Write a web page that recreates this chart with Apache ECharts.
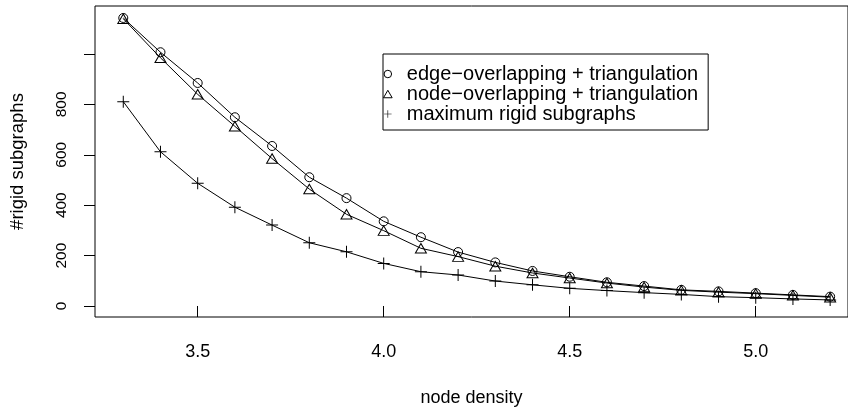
<!DOCTYPE html>
<html>
<head>
<meta charset="utf-8">
<script src="https://cdn.jsdelivr.net/npm/echarts@6/dist/echarts.min.js"></script>
<style>
html,body{margin:0;padding:0;background:#fff;}
#chart{width:848px;height:409px;}
</style>
</head>
<body>
<div id="chart"></div>
<script>
const nodeDensity = [3.3,3.4,3.5,3.6,3.7,3.8,3.9,4.0,4.1,4.2,4.3,4.4,4.5,4.6,4.7,4.8,4.9,5.0,5.1,5.2];
const edgeOverlapping = [1143,1007,885,749,635,511,428,336,273,214,173,139,116,94,79,64,58,51,44,37];
const nodeOverlapping = [1140,985,840,713,585,464,364,299,229,196,158,131,111,91,75,62,55,49,42,35];
const maximumRigid = [811,612,487,392,321,251,215,169,136,123,99,84,70,61,53,46,37,33,28,24];
const xTicks = [3.5,4.0,4.5,5.0];
const yTicks = [0,200,400,600,800,1000];
const yTickLabels = [0,200,400,600,800];
const seriesNames = ['edge\u2212overlapping + triangulation','node\u2212overlapping + triangulation','maximum rigid subgraphs'];

const FONT = '"Liberation Sans", Arial, Helvetica, sans-serif';
const TRI = 'path://M5,0L10,8.66L0,8.66Z';
const PLUS = 'path://M0,5.5H12V6.5H0Z M5.5,0H6.5V12H5.5Z';

function pairs(ys){ return nodeDensity.map((x,i)=>[x, ys[i]]); }

const chart = echarts.init(document.getElementById('chart'), null, {renderer:'canvas'});
chart.setOption({
  animation:false,
  backgroundColor:'#fff',
  textStyle:{fontFamily:FONT, color:'#000'},
  grid:{left:95, top:6, right:0, bottom:92, containLabel:false, outerBoundsMode:'none',
        show:true, borderColor:'#000', borderWidth:1, backgroundColor:'transparent'},
  xAxis:{
    type:'value', min:3.224, max:5.248,
    name:'node density', nameLocation:'middle', nameGap:72,
    nameTextStyle:{fontSize:18, fontFamily:FONT, color:'#000', verticalAlign:'top'},
    axisLine:{show:false},
    axisTick:{show:true, inside:false, length:11, customValues:xTicks, lineStyle:{color:'#000', width:1}},
    axisLabel:{customValues:xTicks, fontSize:18, fontFamily:FONT, color:'#000', margin:26, formatter:v=>Number(v).toFixed(1)},
    splitLine:{show:false}
  },
  yAxis:{
    type:'value', min:-43.7, max:1190.5,
    name:'#rigid subgraphs', nameLocation:'middle', nameGap:68, nameRotate:90,
    nameTextStyle:{fontSize:18.5, fontFamily:FONT, color:'#000'},
    axisLine:{show:false},
    axisTick:{show:true, inside:false, length:11, customValues:yTicks, lineStyle:{color:'#000', width:1}},
    axisLabel:{customValues:yTickLabels, rotate:90, fontSize:15.5, fontFamily:FONT, color:'#000', margin:25},
    splitLine:{show:false}
  },
  legend:{
    left:383, top:54, orient:'vertical',
    borderColor:'#000', borderWidth:1, padding:[10,10,6,0],
    itemGap:0, itemWidth:12, itemHeight:7.5,
    textStyle:{fontSize:20, lineHeight:19, fontFamily:FONT, color:'#000', padding:[0,0,0,8]},
    data:[
      {name:seriesNames[0], icon:'circle', itemStyle:{color:'rgba(0,0,0,0)', borderColor:'#000', borderWidth:1}},
      {name:seriesNames[1], icon:TRI, itemStyle:{color:'rgba(0,0,0,0)', borderColor:'#000', borderWidth:1}},
      {name:seriesNames[2], icon:PLUS, itemStyle:{color:'#000', borderWidth:0}}
    ]
  },
  series:[
    {name:seriesNames[0], type:'line', data:pairs(edgeOverlapping), symbol:'circle', symbolSize:9,
     lineStyle:{color:'#000', width:1}, itemStyle:{color:'rgba(0,0,0,0)', borderColor:'#000', borderWidth:1}},
    {name:seriesNames[1], type:'line', data:pairs(nodeOverlapping), symbol:TRI, symbolSize:[11,9.5],
     lineStyle:{color:'#000', width:1}, itemStyle:{color:'rgba(0,0,0,0)', borderColor:'#000', borderWidth:1}},
    {name:seriesNames[2], type:'line', data:pairs(maximumRigid), symbol:PLUS, symbolSize:12,
     lineStyle:{color:'#000', width:1}, itemStyle:{color:'#000', borderWidth:0}}
  ]
});
</script>
</body>
</html>
